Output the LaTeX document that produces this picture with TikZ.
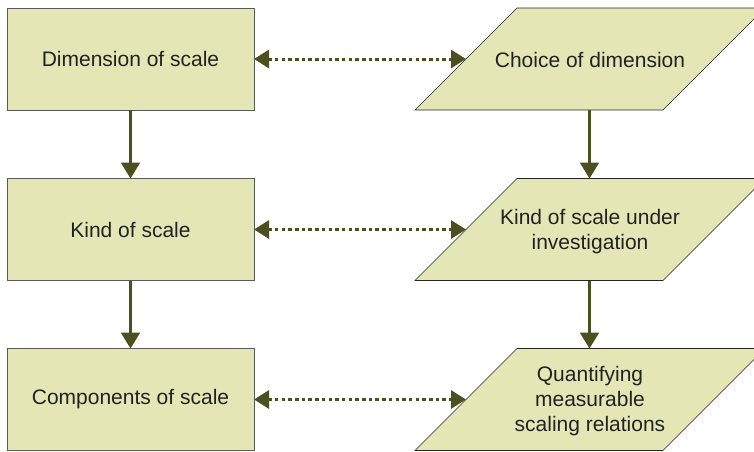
\documentclass[tikz,border=0pt]{standalone}
\usepackage{fontspec}
\setmainfont{Liberation Sans}
\usetikzlibrary{arrows.meta}
\definecolor{boxfill}{HTML}{E5E6B6}
\definecolor{arrowcol}{HTML}{4A5020}
\definecolor{boxline}{HTML}{5A5A5A}
\definecolor{textcol}{HTML}{222222}
\begin{document}
\begin{tikzpicture}[x=1pt,y=-1pt,
  lbox/.style={draw=boxline,line width=0.9pt,fill=boxfill,minimum width=247pt,minimum height=102pt,outer sep=0pt,inner sep=0pt,align=center,text=textcol,font=\fontsize{21}{25}\selectfont},
  ptext/.style={inner sep=0pt,align=center,text=textcol,font=\fontsize{21}{25}\selectfont},
  pshape/.style={draw=black!85,line width=0.6pt,fill=boxfill},
  flow/.style={draw=arrowcol,line width=2.2pt,-{Triangle[length=16pt,width=19pt]},color=arrowcol},
  link/.style={draw=arrowcol,line width=3pt,dash pattern=on 3.5pt off 3.2pt,{Triangle[length=15pt,width=18pt]}-{Triangle[length=15pt,width=18pt]},color=arrowcol}
]
\useasboundingbox (0,0) rectangle (754,451);
\clip (0,0) rectangle (754,451);
% left boxes
\node[lbox] (l1) at (130.5,59) {Dimension of scale};
\node[lbox] (l2) at (130.5,229.5) {Kind of scale};
\node[lbox] (l3) at (130.5,399.5) {Components of scale};
% right parallelograms
\foreach \n/\c in {r1/59,r2/229.5,r3/399.5}{
  \path[pshape] (517,\c-51) -- (765,\c-51) -- (663,\c+51) -- (415,\c+51) -- cycle;
  \coordinate (\n top) at (589.5,\c-51);
  \coordinate (\n bot) at (589.5,\c+51);
  \coordinate (\n left) at (466,\c);
}
\node[ptext] (r1) at (590,60) {Choice of dimension};
\node[ptext] (r2) at (590,231.5) {Kind of scale under\\investigation};
\node[ptext] (r3) at (590,401) {Quantifying\\measurable\\scaling relations};
% connectors
\draw[flow] (l1.south) -- (l2.north);
\draw[flow] (l2.south) -- (l3.north);
\draw[flow] (r1bot) -- (r2top);
\draw[flow] (r2bot) -- (r3top);
\draw[link] (l1.east) -- (r1left);
\draw[link] (l2.east) -- (r2left);
\draw[link] (l3.east) -- (r3left);
\end{tikzpicture}
\end{document}
